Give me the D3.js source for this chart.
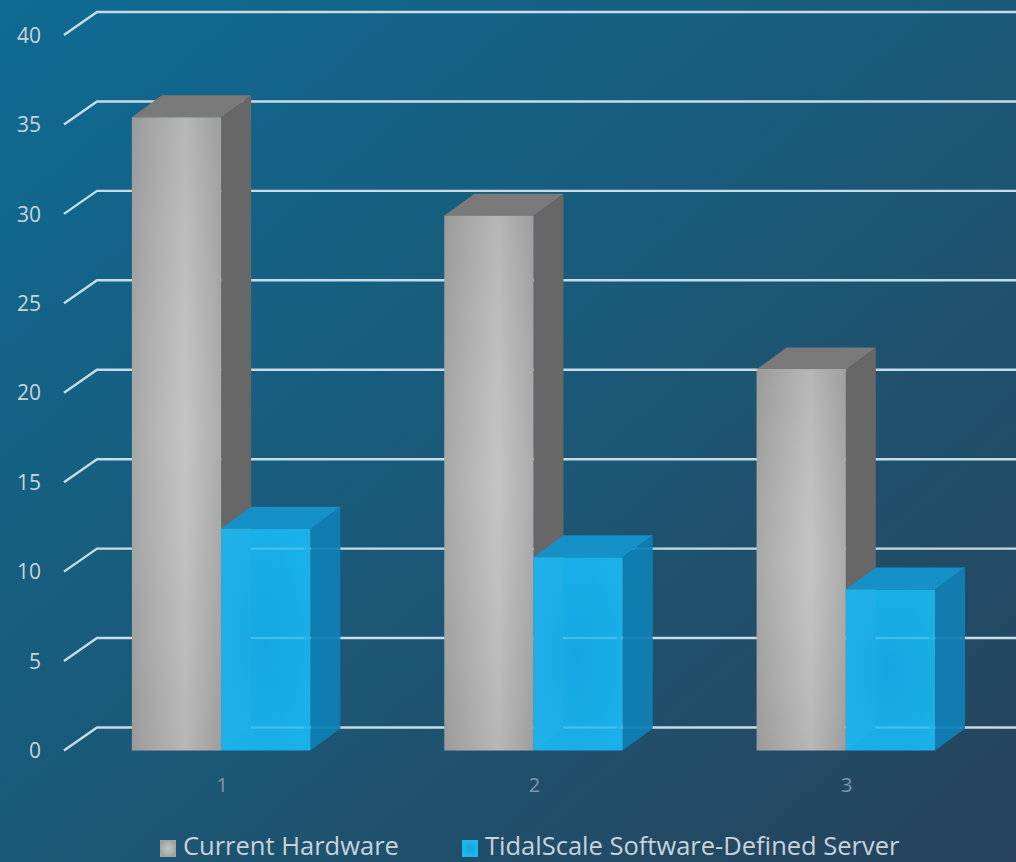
<!DOCTYPE html>
<html>
<head>
<meta charset="utf-8">
<script src="https://cdn.jsdelivr.net/npm/d3@7"></script>
<style>
  html, body { margin: 0; padding: 0; background: #1a5877; }
  svg { display: block; }
  text { font-family: "Open Sans", "Noto Sans", sans-serif; }
</style>
</head>
<body>
<svg id="chart" width="1016" height="862"></svg>
<script>
// Chart data
const categories = ["1", "2", "3"];
const seriesNames = ["Current Hardware", "TidalScale Software-Defined Server"];
const currentHardware = [35.4, 29.9, 21.3];
const tidalScale = [12.4, 10.8, 9.0];
const yTicks = [0, 5, 10, 15, 20, 25, 30, 35, 40];

const W = 1016, H = 862;
const svg = d3.select("#chart");
const defs = svg.append("defs");

// Background gradient
const bg = defs.append("linearGradient").attr("id", "bg")
  .attr("x1", 0).attr("y1", 0).attr("x2", 1).attr("y2", 1);
bg.append("stop").attr("offset", "0%").attr("stop-color", "#0e6b93");
bg.append("stop").attr("offset", "55%").attr("stop-color", "#1c5775");
bg.append("stop").attr("offset", "100%").attr("stop-color", "#27425a");
svg.append("rect").attr("width", W).attr("height", H).attr("fill", "url(#bg)");

// Front face shading for the grey bars
const gg = defs.append("linearGradient").attr("id", "grayFront")
  .attr("x1", 0).attr("y1", 0).attr("x2", 1).attr("y2", 0);
gg.append("stop").attr("offset", "0%").attr("stop-color", "#a4a4a4");
gg.append("stop").attr("offset", "35%").attr("stop-color", "#b6b6b6");
gg.append("stop").attr("offset", "60%").attr("stop-color", "#c2c2c2");
gg.append("stop").attr("offset", "100%").attr("stop-color", "#a8a8a8");

// Soft vertical light over the grey front
const gv = defs.append("linearGradient").attr("id", "grayShade")
  .attr("x1", 0).attr("y1", 0).attr("x2", 0).attr("y2", 1);
gv.append("stop").attr("offset", "0%").attr("stop-color", "#000").attr("stop-opacity", 0.06);
gv.append("stop").attr("offset", "50%").attr("stop-color", "#fff").attr("stop-opacity", 0.04);
gv.append("stop").attr("offset", "100%").attr("stop-color", "#000").attr("stop-opacity", 0.06);

// Front face shading for the blue bars
const bgd = defs.append("radialGradient").attr("id", "blueFront")
  .attr("cx", "0.5").attr("cy", "0.5").attr("r", "0.6");
bgd.append("stop").attr("offset", "0%").attr("stop-color", "#14ace8");
bgd.append("stop").attr("offset", "100%").attr("stop-color", "#1ab6f0");

// Legend swatch shading
const lgGray = defs.append("radialGradient").attr("id", "lgGray");
lgGray.append("stop").attr("offset", "0%").attr("stop-color", "#c8c8c8");
lgGray.append("stop").attr("offset", "100%").attr("stop-color", "#a2a2a2");
const lgBlue = defs.append("radialGradient").attr("id", "lgBlue");
lgBlue.append("stop").attr("offset", "0%").attr("stop-color", "#12a6e2");
lgBlue.append("stop").attr("offset", "100%").attr("stop-color", "#1bb8f2");

// Scales: front plane of the plot
const y = d3.scaleLinear().domain([0, 40]).range([750.5, 35]);
const x0 = d3.scaleBand().domain(categories).range([65, 1002]);
const clusterW = x0.step() * 2 / 3.5;
const x1 = d3.scaleBand().domain(seriesNames).range([0, clusterW]);
const offset0 = (x0.step() - clusterW) / 2;

// Depth offsets
const wallDx = 33, wallDy = -23;
const barDx = 30, barDy = -22;

// Gridlines on the back wall with the diagonal leading in from the front
const gridG = svg.append("g");
gridG.selectAll("path").data(yTicks).join("path")
  .attr("d", t => {
    const yf = y(t);
    return `M64,${yf} L${64 + wallDx},${yf + wallDy} L${W},${yf + wallDy}`;
  })
  .attr("fill", "none")
  .attr("stroke", "#c6dce6")
  .attr("stroke-width", 2.4);

// Y axis labels
svg.append("g").selectAll("text").data(yTicks).join("text")
  .attr("x", 41)
  .attr("y", t => y(t) + 2)
  .attr("text-anchor", "end")
  .attr("dominant-baseline", "middle")
  .attr("fill", "#c9d4dc")
  .attr("font-size", 21)
  .text(t => t);

// Bars
const rows = categories.map((c, i) => ({
  cat: c,
  vals: [
    { s: seriesNames[0], v: currentHardware[i] },
    { s: seriesNames[1], v: tidalScale[i] }
  ]
}));

const styles = {
  [seriesNames[0]]: { front: "url(#grayFront)", top: "#7a7a7a", side: "#676767", opacity: 1, shade: true },
  [seriesNames[1]]: { front: "url(#blueFront)", top: "#1591c8", side: "#0f7fb5", opacity: 0.94, shade: false }
};

const barsG = svg.append("g");
rows.forEach(r => {
  r.vals.forEach(d => {
    const bx = x0(r.cat) + offset0 + x1(d.s);
    const bw = x1.bandwidth();
    const yt = y(d.v), yb = y(0);
    const st = styles[d.s];
    const g = barsG.append("g");
    // side face
    g.append("path")
      .attr("d", `M${bx + bw},${yt} L${bx + bw + barDx},${yt + barDy} L${bx + bw + barDx},${yb + barDy} L${bx + bw},${yb} Z`)
      .attr("fill", st.side).attr("opacity", st.opacity);
    // top face
    g.append("path")
      .attr("d", `M${bx},${yt} L${bx + barDx},${yt + barDy} L${bx + bw + barDx},${yt + barDy} L${bx + bw},${yt} Z`)
      .attr("fill", st.top);
    // front face
    g.append("rect")
      .attr("x", bx).attr("y", yt)
      .attr("width", bw).attr("height", yb - yt)
      .attr("fill", st.front).attr("opacity", st.opacity);
    if (st.shade) {
      g.append("rect")
        .attr("x", bx).attr("y", yt)
        .attr("width", bw).attr("height", yb - yt)
        .attr("fill", "url(#grayShade)");
    }
  });
});

// Faint gridline reflections on the translucent blue front faces
rows.forEach(r => {
  const d = r.vals[1];
  const bx = x0(r.cat) + offset0 + x1(d.s);
  const bw = x1.bandwidth();
  yTicks.filter(t => y(t) + wallDy > y(d.v) + 4).forEach(t => {
    barsG.append("line")
      .attr("x1", bx + bw * 0.33).attr("x2", bx + bw * 0.93)
      .attr("y1", y(t) + wallDy).attr("y2", y(t) + wallDy)
      .attr("stroke", "#6fd3f7").attr("stroke-width", 2).attr("opacity", 0.4);
  });
});

// X axis labels
svg.append("g").selectAll("text").data(categories).join("text")
  .attr("x", c => x0(c) + x0.bandwidth() / 2 + 1)
  .attr("y", 787)
  .attr("text-anchor", "middle")
  .attr("dominant-baseline", "middle")
  .attr("fill", "#7f98aa")
  .attr("font-size", 20)
  .text(c => c);

// Legend
const legendItems = [
  { name: seriesNames[0], x: 160, fill: "url(#lgGray)" },
  { name: seriesNames[1], x: 462, fill: "url(#lgBlue)" }
];
const lg = svg.append("g");
legendItems.forEach(it => {
  lg.append("rect").attr("x", it.x).attr("y", 840).attr("width", 16).attr("height", 17)
    .attr("fill", it.fill);
  lg.append("text").attr("x", it.x + 23).attr("y", 855)
    .attr("fill", "#c8d2da")
    .attr("font-size", 25.5)
    .text(it.name);
});
</script>
</body>
</html>
